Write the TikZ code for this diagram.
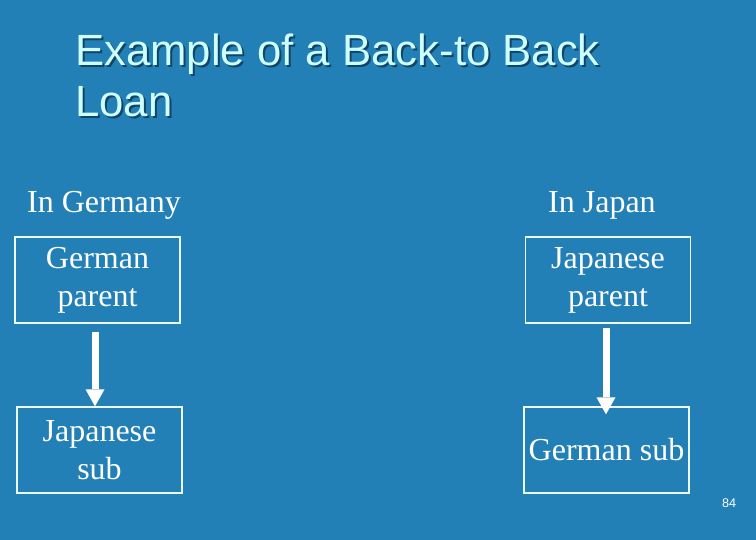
\documentclass[tikz,border=0pt]{standalone}
\usepackage{fontspec}
\setmainfont{Liberation Serif}
\newfontfamily\titlefont{Liberation Sans}
\usetikzlibrary{arrows.meta}
\usetikzlibrary{positioning}

\begin{document}
\begin{tikzpicture}[x = 1pt, y = 1pt,
  box/.style = {draw = boxline, line width = 1.3pt, minimum width = 165pt, minimum height = 86pt, inner sep = 0pt, align = center, text = white, font = \fontsize{32}{38}\selectfont},
  heading/.style = {anchor = base west, inner sep = 0pt, text = white, font = \fontsize{32}{38}\selectfont},
  title/.style = {anchor = base west, inner sep = 0pt, text = titletext, font = \titlefont\fontsize{43.7}{51}\selectfont},
  bigarrow/.style = {white, line width = 7pt, -{Triangle[width = 19pt, length = 17pt, line width = 0pt]}}]
\def\Shadowed#1{\rlap{\kern2pt\raisebox{-2pt}{\textcolor{titleshadow}{#1}}}#1}

\definecolor{slide}{RGB}{34, 128, 182}
\definecolor{titletext}{RGB}{205, 255, 255}
\definecolor{titleshadow}{RGB}{18, 68, 104}
\colorlet{boxline}{cyan!8!white}

\fill[slide] (0, 0) rectangle (756, 540);
\useasboundingbox (0, 0) rectangle (756, 540);

\node[title] (title) at (75, 474) {\Shadowed{Example of a Back-to Back}};
\node[title] (loan) at (75, 423) {\Shadowed{Loan}};

\node[heading] (germany) at (27, 327) {In Germany};
\node[heading] (japan) at (548, 327) {In Japan};

\node[box] (gparent) at (97.5, 260) {German\\parent};
\node[box] (jsub) at (99.5, 90) {Japanese\\sub};
\node[box] (jparent) at (608, 260) {Japanese\\parent};
\node[box] (gsub) at (606.5, 90) {German sub};

\draw[bigarrow, shorten < = 8pt] ([xshift = -2.5pt]gparent.south) -- ([xshift = -4.5pt]jsub.north);
\draw[bigarrow, shorten < = 4pt, shorten > = -8pt] ([xshift = -2pt]jparent.south) -- ([xshift = -0.5pt]gsub.north);

\node[anchor = base west, inner sep = 0pt, text = white, font = \titlefont\fontsize{12.6}{15}\selectfont] (page) at (722, 32) {84};
\end{tikzpicture}
\end{document}
